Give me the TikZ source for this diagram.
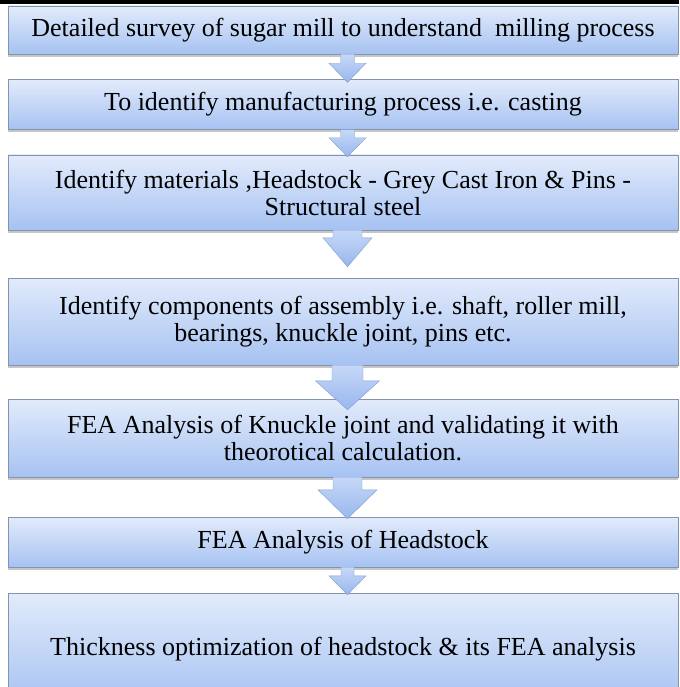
\documentclass[tikz,border=0pt]{standalone}
\usepackage{fontspec}
\setmainfont{Liberation Serif}
\usepackage{tikz}
\usetikzlibrary{calc, positioning, shadows}
\definecolor{boxtop}{HTML}{E2EBFB}
\definecolor{boxbot}{HTML}{A6C2F2}
\definecolor{boxline}{HTML}{8494AC}
\definecolor{arrtop}{HTML}{C6D8F7}
\definecolor{arrbot}{HTML}{98B7EE}
\definecolor{arrline}{HTML}{819DCB}
% block arrow: from node, to node, shaft half width, head half width, head length, tip shift
\newcommand{\flowarrow}[6]{%
  \path ($(#1.south)+(4.5,0)$) coordinate (fa top)
        ($(#2.north)+(4.5,#6)$) coordinate (fa tip);
  \draw[downarrow] ($(fa top)+(-#3,0)$) -- ($(fa tip)+(-#3,-#5)$)
    -- ($(fa tip)+(-#4,-#5)$) -- (fa tip) -- ($(fa tip)+(#4,-#5)$)
    -- ($(fa tip)+(#3,-#5)$) -- ($(fa top)+(#3,0)$) -- cycle;}

\begin{document}
\begin{tikzpicture}[x=1pt, y=-1pt,
    stepbox/.style={draw=boxline, top color=boxtop, bottom color=boxbot,
      minimum width=670pt, inner sep=0pt, align=center,
      font=\fontsize{26}{27}\selectfont,
      drop shadow={shadow xshift=0pt, shadow yshift=-3pt, opacity=0.45}},
    downarrow/.style={draw=arrline, top color=arrtop, bottom color=arrbot}]

  \useasboundingbox (0,0) rectangle (679,687);
  \begin{scope}[overlay]
  \clip (0,0) rectangle (679,687);
  \fill[black] (0,0) rectangle (679,4);

  % process steps
  \node[stepbox, minimum height=48pt] (survey) at (343,30)
    {Detailed survey of sugar mill to understand~ milling process};
  \node[stepbox, minimum height=50pt] (casting) at (343,104.5)
    {To identify manufacturing process i.e. casting};
  \node[stepbox, minimum height=75pt] (materials) at (343,192.5)
    {Identify materials ,Headstock - Grey Cast Iron \& Pins -\\Structural steel};
  \node[stepbox, minimum height=87pt] (components) at (343,321.5)
    {Identify components of assembly i.e. shaft, roller mill,\\bearings, knuckle joint, pins etc.};
  \node[stepbox, minimum height=78pt] (knuckle) at (343,438)
    {FEA Analysis of Knuckle joint and validating it with\\theorotical calculation.};
  \node[stepbox, minimum height=50pt] (headstock) at (343,542)
    {FEA Analysis of Headstock};
  \node[stepbox, minimum height=112pt] (thickness) at (343,649)
    {Thickness optimization of headstock \& its FEA analysis};

  % arrows between steps
  \flowarrow{survey}{casting}{7}{18.5}{19}{3}
  \flowarrow{casting}{materials}{7}{18.5}{19}{2}
  \flowarrow{materials}{components}{14.5}{24.5}{29}{-11}
  \flowarrow{components}{knuckle}{15.5}{32}{29}{11}
  \flowarrow{knuckle}{headstock}{14.5}{29.5}{29}{2}
  \flowarrow{headstock}{thickness}{6.5}{18.5}{19}{2}
  \end{scope}
\end{tikzpicture}
\end{document}
